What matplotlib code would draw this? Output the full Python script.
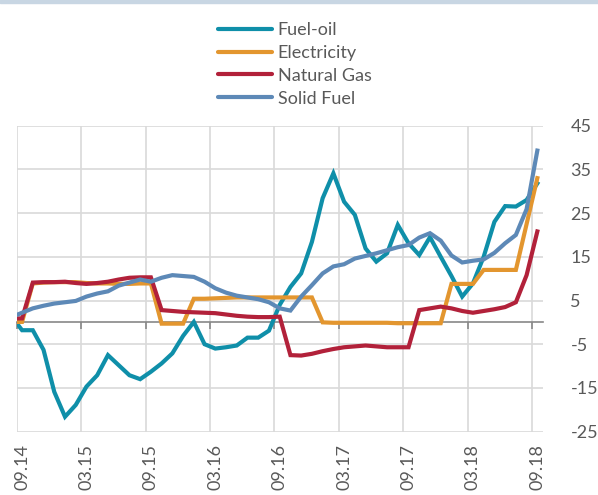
import numpy as np
import matplotlib
matplotlib.use("Agg")
import matplotlib.pyplot as plt
from matplotlib.lines import Line2D
from matplotlib.patches import Rectangle

plt.rcParams["font.family"] = ["Lato", "DejaVu Sans"]
plt.rcParams["axes.unicode_minus"] = False

# monthly values, 08.14 .. 09.18 (first month only partly visible)
fuel_oil = [1.4, -1.8, -1.8, -6.3, -15.9, -21.6, -18.9, -14.7, -12.1, -7.5,
            -9.8, -12.1, -13.0, -11.3, -9.4, -7.1, -3.1, 0.1, -5.0, -6.0,
            -5.7, -5.3, -3.5, -3.5, -1.9, 4.0, 8.1, 11.2, 18.4, 28.4,
            34.1, 27.6, 24.6, 16.9, 13.9, 15.8, 22.3, 18.1, 15.4, 19.5,
            15.0, 10.6, 5.9, 8.9, 15.0, 23.0, 26.6, 26.5, 28.0, 31.8]
electricity = [0.1, 0.1, 8.9, 9.1, 9.2, 9.2, 9.2, 9.0, 8.9, 8.9,
               8.8, 8.8, 8.9, 8.9, -0.3, -0.3, -0.3, 5.4, 5.4, 5.5,
               5.6, 5.7, 5.7, 5.7, 5.7, 5.7, 5.7, 5.7, 5.7, 0.0,
               -0.1, -0.1, -0.1, -0.1, -0.1, -0.1, -0.2, -0.2, -0.2, -0.2,
               -0.2, 8.8, 8.8, 8.8, 12.0, 12.0, 12.0, 12.0, 22.5, 33.0]
natural_gas = [0.9, 0.9, 9.1, 9.2, 9.2, 9.3, 9.0, 8.8, 9.0, 9.3,
               9.8, 10.2, 10.3, 10.3, 2.8, 2.6, 2.4, 2.3, 2.2, 2.1,
               1.8, 1.5, 1.3, 1.2, 1.2, 1.3, -7.5, -7.6, -7.2, -6.6,
               -6.1, -5.7, -5.5, -5.3, -5.5, -5.7, -5.7, -5.7, 2.8, 3.2,
               3.6, 3.2, 2.6, 2.2, 2.6, 3.0, 3.5, 4.6, 10.8, 20.8]
solid_fuel = [1.2, 2.2, 3.2, 3.8, 4.3, 4.6, 4.9, 5.9, 6.6, 7.1,
              8.4, 9.1, 9.8, 9.3, 10.2, 10.8, 10.6, 10.4, 9.3, 7.8,
              6.8, 6.1, 5.7, 5.3, 4.6, 3.2, 2.7, 5.9, 8.5, 11.2,
              12.8, 13.3, 14.6, 15.2, 15.8, 16.5, 17.2, 17.7, 19.4, 20.4,
              18.7, 15.3, 13.7, 14.1, 14.4, 15.9, 18.1, 20.0, 25.9, 39.3]

tick_labels = ["09.14", "03.15", "09.15", "03.16", "09.16",
               "03.17", "09.17", "03.18", "09.18"]
series = ["Fuel-oil", "Electricity", "Natural Gas", "Solid Fuel"]
colors = ["#0f8fa9", "#e3962f", "#b2213a", "#5d89b7"]

x = np.arange(len(fuel_oil)) - 0.5   # points sit mid-month
text_c = "#595959"

fig = plt.figure(figsize=(5.98, 4.95), dpi=100)
fig.patches.append(Rectangle((0, 1 - 3 / 495), 1, 3 / 495, transform=fig.transFigure,
                             color="#c8d6e3", zorder=0))
ax = fig.add_axes([16.7 / 598, 1 - 431.6 / 495, 526 / 598, 305.9 / 495])

for vals, name, c in zip([fuel_oil, electricity, natural_gas, solid_fuel], series, colors):
    ax.plot(x, vals, color=c, lw=3, label=name, solid_joinstyle="miter", zorder=3)

ax.set_xlim(0, 49)
ax.set_ylim(-25, 45)

# axes styling
for s in ["top", "left", "right"]:
    ax.spines[s].set_visible(False)
ax.spines["bottom"].set_position(("data", 0))
ax.spines["bottom"].set_color("#888888")
ax.spines["bottom"].set_linewidth(1.2)
ax.spines["bottom"].set_zorder(2)

ax.set_xticks(np.arange(0, 49, 6))
ax.tick_params(axis="x", length=5, width=1.2, color="#888888", labelbottom=False)
ax.set_yticks(np.arange(-25, 46, 10))
ax.yaxis.tick_right()
ax.tick_params(axis="y", length=0, pad=20, labelsize=13, labelcolor=text_c)
ax.grid(True, color="#d9d9d9", lw=1.2, zorder=0)
ax.set_axisbelow(True)

# month labels under the plot
for i, lab in enumerate(tick_labels):
    ax.text(i * 6 + 0.5, -0.04, lab, transform=ax.get_xaxis_transform(),
            rotation=90, ha="center", va="top", fontsize=13, color=text_c)

handles = [Line2D([], [], color=c, lw=3, solid_capstyle="round") for c in colors]
leg = fig.legend(handles, series, loc="upper left", bbox_to_anchor=(218 / 598, 1 - 22 / 495),
                 frameon=False, fontsize=13, handlelength=3.0, handletextpad=0.3,
                 labelspacing=0.38, borderpad=0, borderaxespad=0)
for t in leg.get_texts():
    t.set_color(text_c)

fig.savefig("out.png", dpi=100)
